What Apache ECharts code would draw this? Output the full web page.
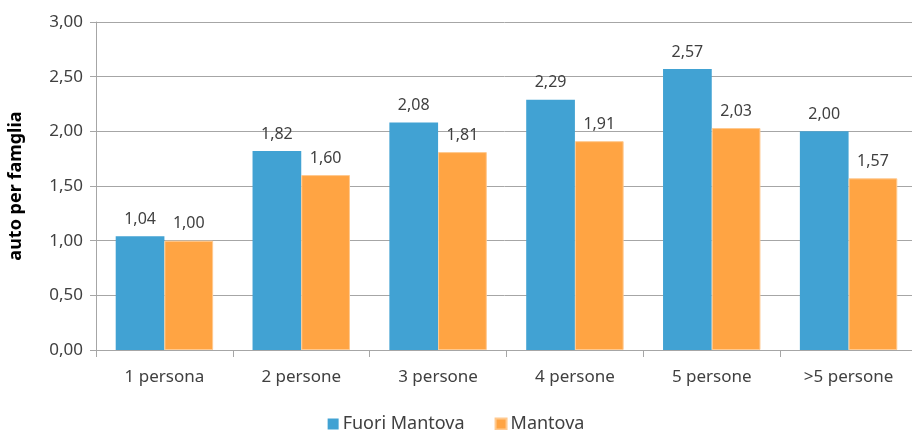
<!DOCTYPE html>
<html><head><meta charset="utf-8">
<script src="https://cdn.jsdelivr.net/npm/echarts@6/dist/echarts.min.js"></script>
<style>html,body{margin:0;padding:0;background:#fff}#c{width:912px;height:430px}</style>
</head><body><div id="c"></div>
<script>
var categories = ['1 persona','2 persone','3 persone','4 persone','5 persone','>5 persone'];
var fuoriMantova = [1.04,1.82,2.08,2.29,2.57,2.00];
var mantova = [1.00,1.60,1.81,1.91,2.03,1.57];
var seriesNames = ['Fuori Mantova','Mantova'];
var yTicks = {min:0,max:3,interval:0.5};
var yName = 'auto per famglia';

var FONT = 'Noto Sans';
function fmt(v){return v.toFixed(2).replace('.',',');}
var chart = echarts.init(document.getElementById('c'));
var lbl = {show:true,position:'top',distance:9,color:'#404040',fontFamily:FONT,fontSize:16,formatter:function(p){return fmt(p.value);}};
chart.setOption({
  animation:false,
  textStyle:{fontFamily:FONT},
  grid:{left:96,top:22,width:821,height:328,containLabel:false,outerBoundsMode:'none'},
  legend:{top:410,left:'center',itemWidth:11,itemHeight:11,itemGap:30,icon:'rect',
    textStyle:{fontFamily:FONT,fontSize:18,color:'#404040',padding:[0,0,0,-1]},data:seriesNames},
  xAxis:{type:'category',data:categories,
    axisLine:{lineStyle:{color:'#a6a6a6'}},
    axisTick:{show:true,length:7,lineStyle:{color:'#a6a6a6'}},
    axisLabel:{color:'#404040',fontSize:17,fontFamily:FONT,margin:19}},
  yAxis:{type:'value',min:yTicks.min,max:yTicks.max,interval:yTicks.interval,
    name:yName,nameLocation:'middle',nameGap:71,nameRotate:90,
    nameTextStyle:{fontWeight:'bold',fontSize:18,color:'#000',fontFamily:FONT},
    axisLine:{show:true,lineStyle:{color:'#a6a6a6'}},
    axisTick:{show:true,length:6,lineStyle:{color:'#a6a6a6'}},
    splitLine:{lineStyle:{color:'#a6a6a6'}},
    axisLabel:{color:'#404040',fontSize:17,fontFamily:FONT,margin:13,formatter:function(v){return fmt(v);}}},
  series:[
    {name:seriesNames[0],type:'bar',data:fuoriMantova,barWidth:'35.6%',barGap:'0%',
     itemStyle:{color:'#41A2D3'},label:lbl},
    {name:seriesNames[1],type:'bar',data:mantova,barWidth:'35.6%',
     itemStyle:{color:'#FFA443',borderColor:'#FFC98F',borderWidth:1},label:lbl}
  ]
});
</script></body></html>
